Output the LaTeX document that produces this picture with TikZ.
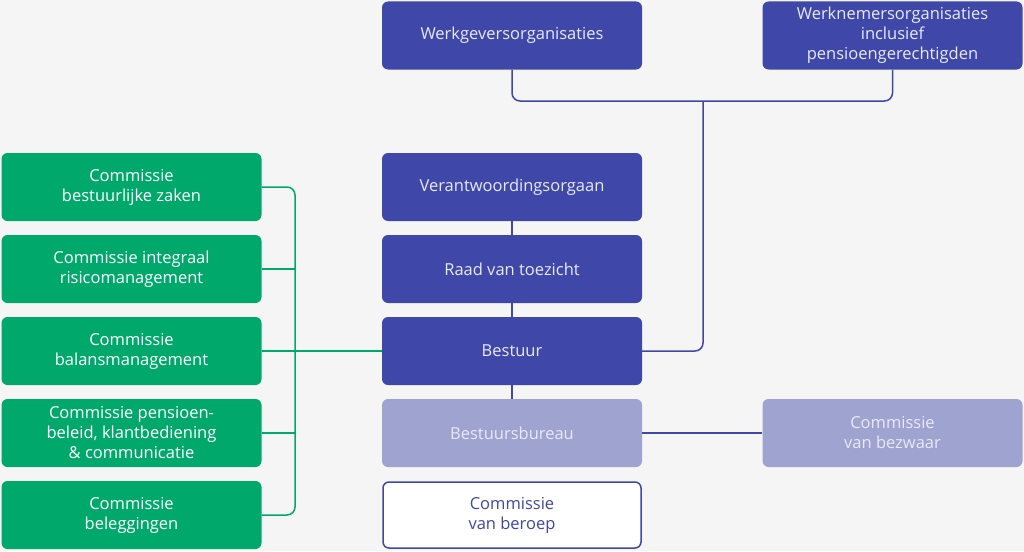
\documentclass[tikz,border=0pt]{standalone}
\usepackage{fontspec}
\setmainfont{Open Sans}
\definecolor{bg}{HTML}{F5F5F5}
\definecolor{dblue}{HTML}{3F48A8}
\definecolor{lblue}{HTML}{9FA3D0}
\definecolor{grn}{HTML}{00A86B}
\definecolor{txt}{HTML}{E8EAF8}
\begin{document}
\begin{tikzpicture}[x=1pt,y=-1pt,
  box/.style={rounded corners=6pt,minimum width=260pt,minimum height=68pt,align=center,font=\fontsize{16.5}{20}\selectfont,inner sep=0pt},
  bluebox/.style={box,fill=dblue,text=txt},
  lightbox/.style={box,fill=lblue,text=txt},
  whitebox/.style={box,fill=white,draw=dblue,line width=1.5pt,text=dblue},
  greenbox/.style={box,fill=grn,text=white},
  bline/.style={draw=dblue,line width=1.5pt,rounded corners=8pt},
  gline/.style={draw=grn,line width=1.5pt,rounded corners=8pt}]
\fill[bg] (0,0) rectangle (1024,551);
\node[bluebox] (wg) at (512,35.5) {Werkgeversorganisaties};
\node[bluebox] (wn) at (892.5,35.5) {Werknemersorganisaties\\inclusief\\pensioengerechtigden};
\node[bluebox] (vo) at (512,187) {Verantwoordingsorgaan};
\node[bluebox] (rt) at (512,269) {Raad van toezicht};
\node[bluebox] (be) at (512,351) {Bestuur};
\node[lightbox] (bb) at (512,433) {Bestuursbureau};
\node[whitebox,minimum width=258pt,minimum height=66pt] (cb) at (512,515) {Commissie\\van beroep};
\node[lightbox] (bz) at (892.5,433) {Commissie\\van bezwaar};
\node[greenbox] (g1) at (131.5,187) {Commissie\\bestuurlijke zaken};
\node[greenbox] (g2) at (131.5,269) {Commissie integraal\\risicomanagement};
\node[greenbox] (g3) at (131.5,351) {Commissie\\balansmanagement};
\node[greenbox] (g4) at (131.5,433) {Commissie pensioen-\\beleid, klantbediening\\\& communicatie};
\node[greenbox] (g5) at (131.5,515) {Commissie\\beleggingen};
\coordinate (mid) at (703,101);
\draw[bline] (wg.south) |- (mid) -| (wn.south);
\draw[bline] (mid) |- (be.east);
\draw[bline] (vo) -- (rt) (rt) -- (be) (be) -- (bb);
\draw[bline] (bb.east) -- (bz.west);
\draw[gline] (g1.east) -| (295,351) |- (g5.east);
\draw[gline] (g2.east) -- (295,269);
\draw[gline] (g4.east) -- (295,433);
\draw[gline] (g3.east) -- (be.west);
\end{tikzpicture}
\end{document}
